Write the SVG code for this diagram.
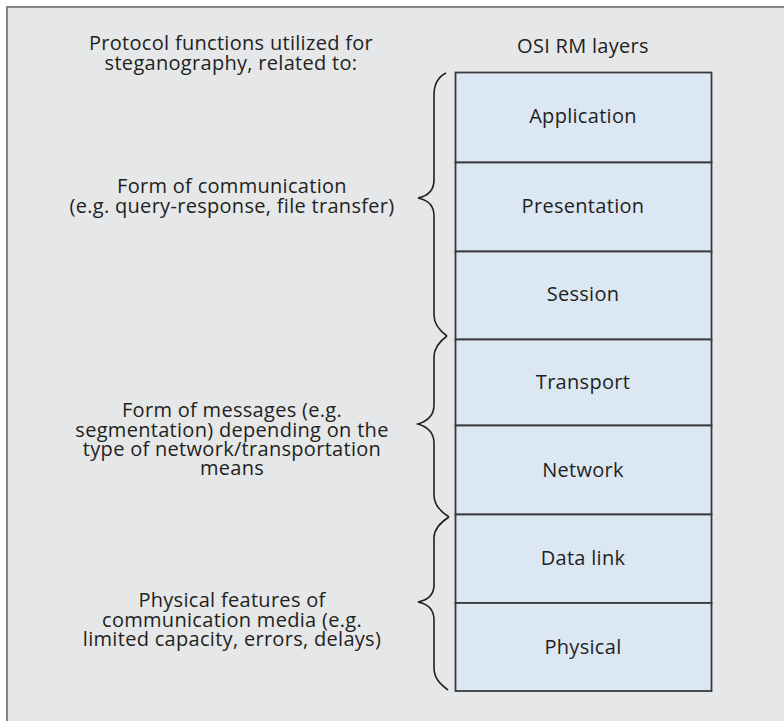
<svg xmlns="http://www.w3.org/2000/svg" width="784" height="721" viewBox="0 0 784 721">
<style>
.t{font-family:"Open Sans","Liberation Sans",sans-serif;font-size:20px;letter-spacing:0.3px;fill:#231f20;text-anchor:middle}
.layer rect{fill:#dce7f4;stroke:#3a3a3c;stroke-width:1.8}
.br{fill:none;stroke:#231f20;stroke-width:1.6}
</style>
<rect x="0" y="0" width="784" height="721" fill="#ffffff"/>
<rect x="7" y="7" width="790" height="730" fill="#e6e7e8" stroke="#858585" stroke-width="2"/>
<g id="header">
<text class="t" x="231" y="50">Protocol functions utilized for</text>
<text class="t" x="231" y="70">steganography, related to:</text>
<text class="t" x="583" y="53">OSI RM layers</text>
</g>
<g id="application" class="layer"><rect x="455.5" y="72.5" width="256" height="90"/><text class="t" x="583" y="123">Application</text></g>
<g id="presentation" class="layer"><rect x="455.5" y="162.5" width="256" height="89"/><text class="t" x="583" y="213">Presentation</text></g>
<g id="session" class="layer"><rect x="455.5" y="251.5" width="256" height="88"/><text class="t" x="583" y="301">Session</text></g>
<g id="transport" class="layer"><rect x="455.5" y="339.5" width="256" height="86"/><text class="t" x="583" y="389">Transport</text></g>
<g id="network" class="layer"><rect x="455.5" y="425.5" width="256" height="89"/><text class="t" x="583" y="477">Network</text></g>
<g id="datalink" class="layer"><rect x="455.5" y="514.5" width="256" height="88.5"/><text class="t" x="583" y="565">Data link</text></g>
<g id="physical" class="layer"><rect x="455.5" y="603" width="256" height="88"/><text class="t" x="583" y="654">Physical</text></g>
<g id="label1">
<text class="t" x="232" y="193">Form of communication</text>
<text class="t" x="232" y="213">(e.g. query-response, file transfer)</text>
</g>
<g id="label2">
<text class="t" x="232" y="417">Form of messages (e.g.</text>
<text class="t" x="232" y="437">segmentation) depending on the</text>
<text class="t" x="232" y="456">type of network/transportation</text>
<text class="t" x="232" y="475">means</text>
</g>
<g id="label3">
<text class="t" x="232" y="607">Physical features of</text>
<text class="t" x="232" y="627">communication media (e.g.</text>
<text class="t" x="232" y="646">limited capacity, errors, delays)</text>
</g>
<g id="connectors">
<path class="br" d="M446,73 C438,77 434,84 434,95 L434,180 C434,190 428,196 418,198 C428,200 434,206 434,216 L434,315 C434,325 440,331 447,336"/>
<path class="br" d="M447,336 C440,341 434,347 434,357 L434,405 C434,415 428,421 418,424 C428,427 434,433 434,443 L434,495 C434,505 441,512 449,517"/>
<path class="br" d="M449,517 C441,522 434,528 434,538 L434,585 C434,595 428,600 418,602 C428,604 434,610 434,620 L434,668 C434,678 440,684 448,690"/>
</g>
</svg>
